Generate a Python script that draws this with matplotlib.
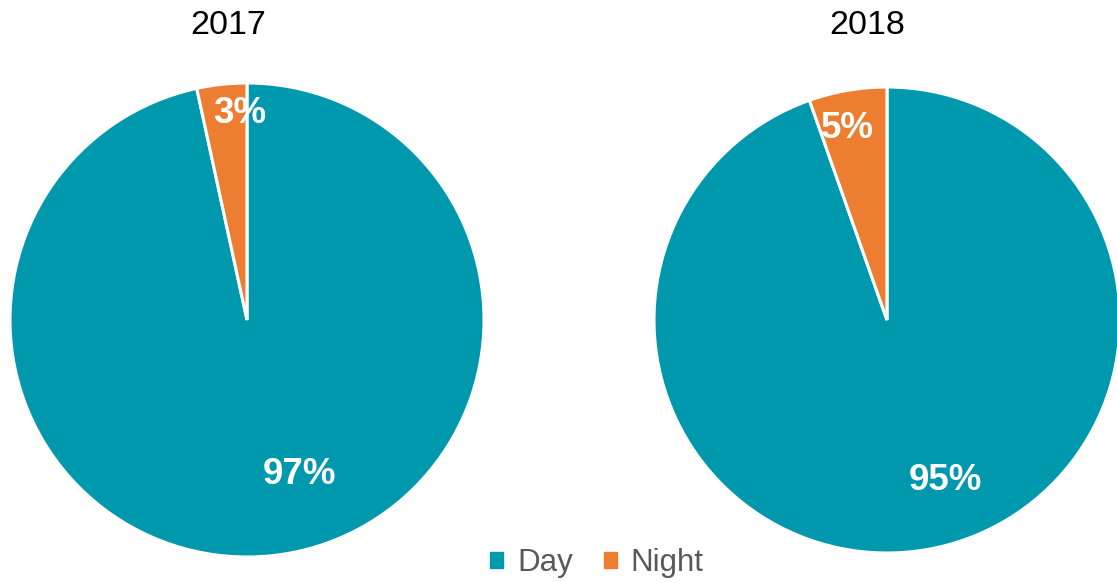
import matplotlib
matplotlib.use("Agg")
import matplotlib.pyplot as plt

plt.rcParams['font.family'] = ['Liberation Sans', 'DejaVu Sans']

years = ["2017", "2018"]
categories = ["Day", "Night"]
day_share = [96.6, 94.6]
night_share = [3.4, 5.4]
colors = ["#0098AD", "#ED7D31"]

W, H = 1117, 582
fig = plt.figure(figsize=(W / 100, H / 100), dpi=100)
fig.patch.set_facecolor("white")

# pie layout in pixel units: (center x, center y from top, radius)
layouts = [(247, 320, 237), (887, 320, 233)]
title_x = [228, 867]
# label placement (fraction of radius) per wedge, per pie
label_pos = [[(0.22, -0.65), (-0.03, 0.87)],
             [(0.25, -0.69), (-0.17, 0.82)]]

for i, year in enumerate(years):
    cx, cy, r = layouts[i]
    ax = fig.add_axes([(cx - r) / W, (H - cy - r) / H, 2 * r / W, 2 * r / H])
    vals = [day_share[i], night_share[i]]
    wedges, texts, autotexts = ax.pie(
        vals, colors=colors, startangle=90, counterclock=False,
        autopct="%.0f%%", radius=1.0,
        wedgeprops=dict(edgecolor="white", linewidth=2.2),
        textprops=dict(color="white", fontsize=26.5, fontweight="bold"))
    for t, pos in zip(autotexts, label_pos[i]):
        t.set_position(pos)
        t.set_ha("center")
        t.set_va("center")
    ax.set_xlim(-1, 1)
    ax.set_ylim(-1, 1)
    ax.set_aspect("equal")
    ax.axis("off")
    fig.text(title_x[i] / W, 1 - 25 / H, year, ha="center", va="center",
             fontsize=24.5, color="black")

handles = [plt.Rectangle((0, 0), 1, 1, color=c) for c in colors]
leg = fig.legend(handles, categories, loc="center", bbox_to_anchor=(597 / W, 1 - 563 / H),
                 ncol=2, frameon=False, fontsize=22.5, handlelength=0.4, handleheight=0.4,
                 handletextpad=0.45, columnspacing=1.0, labelcolor="#595959")

fig.savefig("out.png", dpi=100)
